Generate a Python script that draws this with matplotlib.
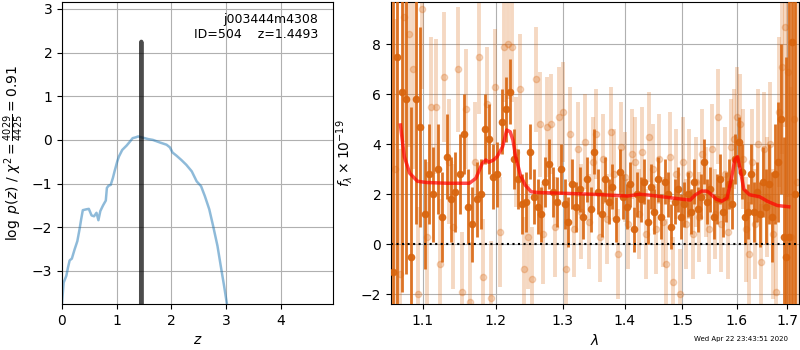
import numpy as np
import matplotlib
matplotlib.use("Agg")
import matplotlib.pyplot as plt

# ---------------- left panel data: log p(z) ----------------
z_grid = [0.0, 0.03, 0.08, 0.11, 0.14, 0.18, 0.23, 0.28, 0.32, 0.35, 0.38, 0.445, 0.49,
          0.54, 0.585, 0.63, 0.665, 0.70, 0.75, 0.80, 0.82, 0.85, 0.89, 0.93, 0.96, 1.01,
          1.04, 1.10, 1.18, 1.24, 1.29, 1.35, 1.39, 1.42, 1.48, 1.57, 1.66, 1.79, 1.91,
          1.97, 2.02, 2.09, 2.18, 2.27, 2.37, 2.46, 2.54, 2.61, 2.69, 2.76, 2.84, 2.90,
          2.96, 3.01]
logpz = [-3.74, -3.27, -3.11, -2.92, -2.76, -2.72, -2.51, -2.32, -2.05, -1.82, -1.61,
         -1.59, -1.58, -1.73, -1.75, -1.67, -1.84, -1.63, -1.50, -1.39, -1.10, -1.05,
         -1.03, -0.87, -0.72, -0.49, -0.38, -0.23, -0.13, -0.04, 0.04, 0.06, 0.08, 0.07,
         0.05, 0.02, 0.0, -0.06, -0.11, -0.17, -0.29, -0.36, -0.46, -0.57, -0.72, -0.95,
         -1.06, -1.29, -1.59, -1.97, -2.43, -2.89, -3.34, -3.74]
z_fine = [1.4440, 1.4480, 1.4493, 1.4506, 1.4546]
logpz_fine = [-3.8, 2.0, 2.25, 2.0, -3.8]

field_name = "j003444m4308"
obj_id = 504
z_best = 1.4493
chi2_num, chi2_den, chi2_red = 4029, 4425, 0.91

# ---------------- right panel data: spectrum ----------------
wave_start, wave_stop, n_pix = 1.061, 1.716, 112
flux_a = [-1.1, 7.5, 6.1, 5.8, -0.5, 5.8, 4.7, 1.2, 2.8, 2.0, 3.0, 1.1, 3.5, 1.8, 2.1, 2.8,
          4.4, 1.5, 0.8, 1.8, 2.0, 4.6, 4.2, 2.7, 2.8, 4.9, 5.4, 6.1, 3.4, 2.6, 1.6, 1.7,
          3.7, 1.9, 1.5, 1.2, 2.5, 3.2, 2.1, 1.7, 3.0, 1.6, 0.9, 2.4, 1.5, 2.2, 1.1, 2.6,
          1.4, 3.7, 2.1, 1.2, 2.6, 1.7, 2.3, 1.0, 2.9, 1.9, 1.5, 2.4, 0.6, 2.0, 1.8, 2.5,
          0.9, 2.3, 1.3, 2.6, 1.1, 2.5, 2.0, 0.7, 1.7, 2.2, 1.1, 1.6, 2.0, 1.3, 2.5, 1.4,
          1.9, 3.3, 1.7, 2.2, 1.1, 1.8, 2.6, 1.3, 1.9, 2.4, 1.6, 3.4, 4.1, 2.9, 1.1, 1.3,
          2.8, 1.3, 2.1, 1.2, 2.5, 1.5, 2.4, 1.1, 2.8, 3.3, 5.0, 0.3, -0.5, 0.3, 8.1, 2.0]
err_a = [12, 10, 8, 7, 6, 5, 4, 2.2, 2.0, 1.9, 1.8, 1.8, 1.7, 1.7, 1.6, 1.6, 1.6, 1.5, 1.5,
         1.5, 1.4, 1.4, 1.4, 1.3, 1.3, 1.3, 1.3, 1.3, 1.2, 1.2, 1.2, 1.2, 1.1, 1.1, 1.1,
         1.1, 1.0, 1.0, 1.0, 1.0, 1.0, 1.0, 1.0, 1.0, 1.0, 0.9, 0.9, 0.9, 0.9, 0.9, 0.9,
         0.9, 0.9, 0.9, 0.9, 0.9, 0.9, 0.9, 0.9, 0.9, 0.9, 0.9, 0.9, 0.9, 0.9, 0.9, 0.9,
         0.9, 0.9, 0.9, 0.9, 0.9, 0.9, 0.9, 0.9, 0.9, 0.9, 0.9, 0.9, 0.9, 0.9, 0.9, 0.9,
         0.9, 0.9, 1.0, 1.0, 1.0, 1.0, 1.0, 1.0, 1.0, 1.0, 1.1, 1.1, 1.1, 1.2, 1.2, 1.2,
         1.3, 1.4, 1.5, 1.6, 1.8, 2.0, 2.4, 3.0, 4.0, 8.0, 12, 15, 20]
flux_b = [3.0, -1.2, 9.1, 8.4, 7.0, -2.0, 9.4, 0.3, 5.5, 5.5, -0.8, 6.7, 3.3, 0.7, 7.0,
          -1.9, 5.4, -2.3, 3.3, 7.5, -1.3, 5.6, -2.15, 6.3, 0.5, 7.9, 8.0, 7.9, 3.7, 6.2,
          -1.0, 0.3, -1.4, 6.6, 4.8, 0.4, 4.7, 4.8, 0.7, 5.1, 5.3, -1.0, 4.4, 0.6, 3.8,
          1.3, 4.1, 0.9, 3.3, 4.4, 0.3, 3.4, 1.0, 4.5, 2.8, -0.4, 3.9, 2.7, 0.8, 3.6, 3.3,
          1.2, 3.7, 0.4, 4.3, 3.0, 0.6, 3.4, 0.9, -0.8, 3.5, -1.5, 2.8, -2.0, 3.3, 0.8, 2.8,
          0.4, 2.5, 1.1, 3.6, 2.1, 0.6, 3.8, 1.2, 5.1, 0.8, 2.8, 0.5, 3.9, 4.2, 5.1, 4.8,
          3.4, 0.6, -0.4, 3.3, 0.8, 4.0, -0.7, 3.8, 1.9, 4.0, 0.4, -1.9, 5.3, 7.1, 8.7,
          6.9, 0.3, 5.0, 2.5]
err_b = [6, 5, 5, 4.5, 4, 3.5, 3.2, 3, 2.8, 2.7, 2.6, 2.6, 2.5, 2.5, 2.5, 2.4, 2.4, 2.4,
         2.4, 2.3, 2.3, 2.3, 2.3, 2.3, 2.2, 2.2, 2.2, 2.2, 2.2, 2.2, 2.1, 2.1, 2.1, 2.1,
         2.1, 2.0, 2.0, 2.0, 2.0, 2.0, 2.0, 2.0, 1.9, 1.9, 1.9, 1.9, 1.9, 1.9, 1.8, 1.8,
         1.8, 1.8, 1.8, 1.8, 1.8, 1.8, 1.8, 1.8, 1.8, 1.8, 1.8, 1.8, 1.8, 1.8, 1.8, 1.8,
         1.8, 1.8, 1.8, 1.8, 1.8, 1.8, 1.8, 1.8, 1.8, 1.8, 1.8, 1.8, 1.8, 1.8, 1.8, 1.8,
         1.8, 1.8, 1.8, 1.9, 1.9, 1.9, 1.9, 1.9, 2.0, 2.0, 2.0, 2.0, 2.1, 2.1, 2.1, 2.2,
         2.2, 2.3, 2.3, 2.4, 2.5, 2.6, 2.8, 3.0, 3.5, 4.0, 5.0, 6.0, 8.0, 10.0]

model_wave = [1.071, 1.076, 1.083, 1.093, 1.105, 1.132, 1.163, 1.172, 1.181, 1.186, 1.190,
              1.197, 1.202, 1.210, 1.216, 1.221, 1.225, 1.229, 1.236, 1.243, 1.252, 1.262,
              1.30, 1.346, 1.405, 1.425, 1.44, 1.50, 1.514, 1.523, 1.535, 1.545, 1.552,
              1.562, 1.572, 1.582, 1.590, 1.597, 1.602, 1.607, 1.614, 1.625, 1.645, 1.66,
              1.68, 1.703]
model_flux = [4.77, 3.5, 2.84, 2.52, 2.47, 2.44, 2.44, 2.64, 3.24, 3.37, 3.28, 3.37, 3.5,
              3.9, 4.57, 4.5, 4.17, 3.5, 2.77, 2.37, 2.1, 2.07, 2.04, 2.0, 1.93, 2.0, 1.97,
              1.8, 1.77, 1.97, 2.13, 2.12, 2.0, 1.8, 1.72, 1.85, 2.6, 3.4, 3.5, 3.0, 2.2,
              1.98, 1.9, 1.72, 1.55, 1.5]

xticks_right = [1.1, 1.2, 1.3, 1.4, 1.5, 1.6, 1.7]
timestamp = "Wed Apr 22 23:43:51 2020"

# ---------------- figure ----------------
fig = plt.figure(figsize=(8, 3.5), dpi=100)
ax1 = fig.add_axes([0.0775, 0.1314, 0.33875, 0.8629])
ax2 = fig.add_axes([0.48875, 0.1314, 0.51, 0.8629])

# left
ax1.plot(z_grid, logpz, color='tab:blue', alpha=0.5, lw=1.8)
ax1.plot(z_fine, logpz_fine, color='k', alpha=0.7, lw=3)
ax1.set_xlim(0, 4.95)
ax1.set_ylim(-3.76, 3.16)
ax1.set_xticks([0, 1, 2, 3, 4])
ax1.set_yticks([-3, -2, -1, 0, 1, 2, 3])
ax1.grid(True)
ax1.set_xlabel(r'$z$')
ax1.set_ylabel(r'$\log\ p(z)$' + ' / ' +
               r'$\chi^2=\frac{%d}{%d}=%.2f$' % (chi2_num, chi2_den, chi2_red))
ax1.text(0.945, 0.965, '%s\nID=%d    z=%.4f' % (field_name, obj_id, z_best),
         ha='right', va='top', transform=ax1.transAxes, fontsize=9)

# right
wave = np.linspace(wave_start, wave_stop, n_pix)
wave_b = wave + (wave[1] - wave[0]) / 2
orange = '#d9650e'
ax2.errorbar(wave_b, flux_b, yerr=err_b, color=orange, alpha=0.25, marker='o', ms=4.5,
             linestyle='none', elinewidth=2.8, zorder=2)
ax2.errorbar(wave, flux_a, yerr=err_a, color=orange, alpha=0.9, marker='o', ms=4.5,
             linestyle='none', elinewidth=2.0, zorder=3)
ax2.plot(model_wave, model_flux, color='r', alpha=0.7, lw=2.5, zorder=4)
ax2.axhline(0, color='k', linestyle=':', lw=1.5, zorder=5)
ax2.set_xscale('log')
ax2.set_xlim(1.059, 1.724)
ax2.set_ylim(-2.39, 9.69)
ax2.set_xticks(xticks_right)
ax2.set_xticklabels(['%.1f' % t for t in xticks_right])
ax2.minorticks_off()
ax2.set_yticks([-2, 0, 2, 4, 6, 8])
ax2.grid(True)
ax2.set_xlabel(r'$\lambda$')
ax2.set_ylabel(r'$f_\lambda\times10^{-19}$')

fig.text(0.985, 0.022, timestamp, ha='right', va='bottom', fontsize=5)

fig.savefig('out.png', dpi=100)
